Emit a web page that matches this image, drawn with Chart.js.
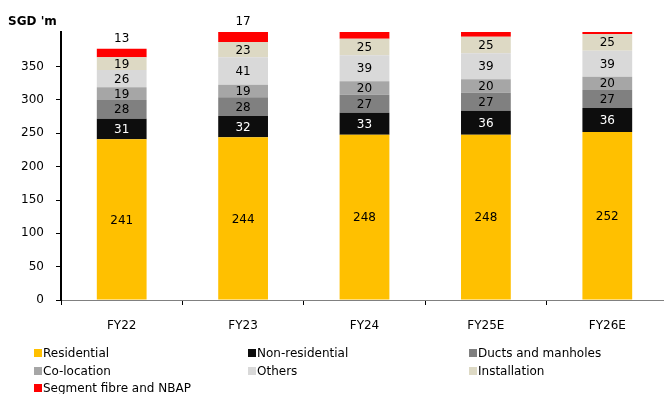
<!DOCTYPE html>
<html><head><meta charset="utf-8">
<script src="https://cdn.jsdelivr.net/npm/chart.js@4/dist/chart.umd.min.js"></script>
<style>html,body{margin:0;padding:0;background:#fff;overflow:hidden}#wrap{width:664px;height:394px;position:relative;overflow:hidden}canvas{display:block}</style>
</head><body><div id="wrap"><canvas id="c" width="668" height="394"></canvas></div>
<script>
const categories = ['FY22','FY23','FY24','FY25E','FY26E'];
const residential = [241,244,248,248,252];
const nonResidential = [31,32,33,36,36];
const ductsManholes = [28,28,27,27,27];
const coLocation = [19,19,20,20,20];
const others = [26,41,39,39,39];
const installation = [19,23,25,25,25];
const segmentFibre = [13,17,10,7,3];
const yTicks = [0,50,100,150,200,250,300,350];

const FONT = 'DejaVu Sans';
const series = [
  {label:'Residential', data:residential, color:'#FFC000', txt:'#000'},
  {label:'Non-residential', data:nonResidential, color:'#0D0D0D', txt:'#fff'},
  {label:'Ducts and manholes', data:ductsManholes, color:'#808080', txt:'#000'},
  {label:'Co-location', data:coLocation, color:'#A6A6A6', txt:'#000'},
  {label:'Others', data:others, color:'#D9D9D9', txt:'#000'},
  {label:'Installation', data:installation, color:'#DDD9C4', txt:'#000'},
  {label:'Segment fibre and NBAP', data:segmentFibre, color:'#FF0000', txt:'#000', above:true}
];

const labelPlugin = {
  id:'labels',
  afterDatasetsDraw(chart){
    const ctx = chart.ctx;
    ctx.save();
    ctx.font = '12px "'+FONT+'"';
    ctx.textAlign='center'; ctx.textBaseline='middle';
    chart.data.datasets.forEach((ds,di)=>{
      const meta = chart.getDatasetMeta(di);
      const s = series[di];
      meta.data.forEach((el,i)=>{
        const v = ds.data[i];
        if (s.above){
          if (v >= 12){
            ctx.fillStyle='#000';
            const top = Math.max(el.y, chart.chartArea.top);
            ctx.fillText(String(v), el.x, top - 10);
          }
        } else {
          ctx.fillStyle = s.txt;
          ctx.fillText(String(v), el.x, (el.y+el.base)/2 + 1);
        }
      });
    });
    ctx.font = 'bold 12px "'+FONT+'"';
    ctx.textAlign='left'; ctx.fillStyle='#000';
    ctx.fillText("SGD 'm", 8, 22);
    ctx.font = '12px "'+FONT+'"';
    const cols=[34,248,469], rows=[353,371,388];
    series.forEach((s,k)=>{
      const x = cols[k%3], y = rows[Math.floor(k/3)];
      ctx.fillStyle = s.color;
      ctx.fillRect(x, y-4, 8, 8);
      ctx.fillStyle='#000';
      ctx.fillText(s.label, x+9, y+1);
    });
    ctx.restore();
  }
};

new Chart(document.getElementById('c'), {
  type:'bar',
  data:{
    labels:categories,
    datasets: series.map(s=>({label:s.label, data:s.data, backgroundColor:s.color, borderWidth:0, barPercentage:0.82, categoryPercentage:0.5}))
  },
  options:{
    responsive:false, animation:false,
    layout:{padding:{top:32,left:0,right:0,bottom:54}},
    plugins:{legend:{display:false}, tooltip:{enabled:false}},
    scales:{
      x:{
        stacked:true,
        grid:{display:true, drawOnChartArea:false, offset:true, color:'#000', tickLength:5, tickWidth:1},
        border:{display:true, color:'#808080', width:1},
        ticks:{color:'#000', font:{family:FONT, size:12}, padding:14},
        afterFit(s){ s.height = 40; }
      },
      y:{
        stacked:true, min:0, max:402,
        afterBuildTicks(s){ s.ticks = yTicks.map(v=>({value:v})); },
        grid:{display:true, drawOnChartArea:false, color:'#000', tickLength:5, tickWidth:1},
        border:{display:true, color:'#000', width:2},
        ticks:{color:'#000', font:{family:FONT, size:12}, padding:12},
        afterFit(s){ s.width = 61; }
      }
    }
  },
  plugins:[labelPlugin]
});
</script></body></html>
